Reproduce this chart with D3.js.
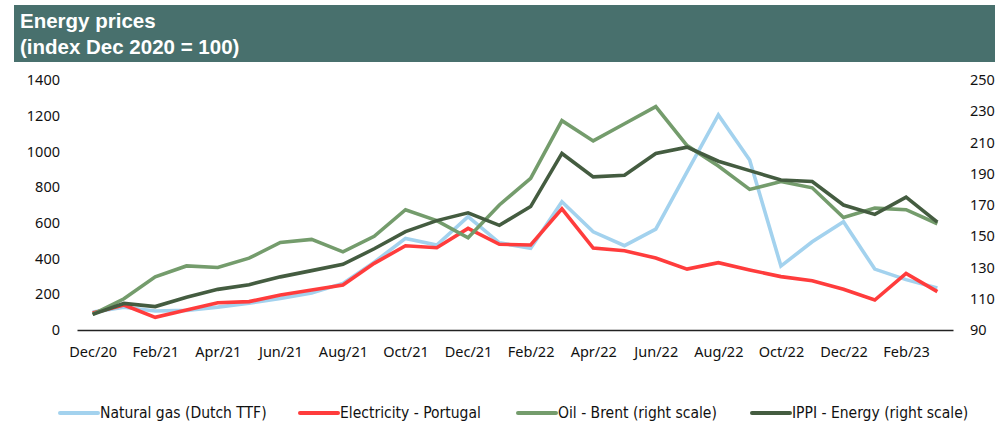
<!DOCTYPE html>
<meta charset="utf-8">
<title>Energy prices</title>
<style>
  body { margin: 0; background: #fff; }
  text { font-family: "Noto Sans", "DejaVu Sans", sans-serif; }
</style>
<svg width="1000" height="425"></svg>
<script src="https://d3js.org/d3.v7.min.js"></script>
<script>

var months = ["Dec/20","Jan/21","Feb/21","Mar/21","Apr/21","May/21","Jun/21","Jul/21","Aug/21","Sep/21","Oct/21","Nov/21",
              "Dec/21","Jan/22","Feb/22","Mar/22","Apr/22","May/22","Jun/22","Jul/22","Aug/22","Sep/22","Oct/22","Nov/22",
              "Dec/22","Jan/23","Feb/23","Mar/23"];

// left scale
var gas = [100,127,106,110,128,150,177,207,261,380,513,476,635,488,458,718,550,472,565,885,1204,952,358,494,606,341,282,235];
var electricity = [95,140,71,112,153,159,196,224,252,373,472,461,569,480,476,678,459,444,403,341,377,336,299,276,228,168,317,215];
// right scale
var oil = [100,110,124,131,130,136,146,148,140,150,167,160,149,170,187,224,211,222,233,208,195,180,185,181,162,168,167,158];
var ippi = [100,107,105,111,116,119,124,128,132,142,153,160,165,157,169,203,188,189,203,207,198,192,186,185,170,164,175,159];

var leftTicks = [0,200,400,600,800,1000,1200,1400];
var rightTicks = [90,110,130,150,170,190,210,230,250];

var series = [
  {name: "Natural gas (Dutch TTF)", values: gas, axis: "left", color: "#a3d2ee"},
  {name: "Electricity - Portugal", values: electricity, axis: "left", color: "#ff3c3c"},
  {name: "Oil - Brent (right scale)", values: oil, axis: "right", color: "#749c6c"},
  {name: "IPPI - Energy (right scale)", values: ippi, axis: "right", color: "#445c40"}
];

var svg = d3.select("svg");

// title banner
svg.append("rect")
    .attr("x", 14).attr("y", 5)
    .attr("width", 981).attr("height", 57)
    .attr("fill", "#48706d");
svg.append("text")
    .attr("x", 20).attr("y", 28)
    .attr("fill", "#fff")
    .attr("font-size", 20.5).attr("font-weight", "bold")
    .style("font-family", "'Liberation Sans', Arial, sans-serif")
    .text("Energy prices");
svg.append("text")
    .attr("x", 20).attr("y", 54)
    .attr("fill", "#fff")
    .attr("font-size", 20.5).attr("font-weight", "bold")
    .style("font-family", "'Liberation Sans', Arial, sans-serif")
    .text("(index Dec 2020 = 100)");

var x = d3.scalePoint()
    .domain(months)
    .range([77, 953])
    .padding(0.5);

var yLeft = d3.scaleLinear().domain([0, 1400]).range([330, 80]);
var yRight = d3.scaleLinear().domain([90, 250]).range([330, 80]);

// left axis
svg.append("g")
    .attr("transform", "translate(60,0)")
    .call(d3.axisLeft(yLeft).tickValues(leftTicks).tickFormat(d3.format("d")).tickSize(0).tickPadding(0))
    .call(function(g) { g.select(".domain").remove(); })
    .selectAll("text")
      .attr("font-size", 14.5)
      .attr("fill", "#111")
      .style("font-family", "'Noto Sans', sans-serif");

// right axis
svg.append("g")
    .attr("transform", "translate(970,0)")
    .call(d3.axisRight(yRight).tickValues(rightTicks).tickSize(0).tickPadding(0))
    .call(function(g) { g.select(".domain").remove(); })
    .selectAll("text")
      .attr("font-size", 14.5)
      .attr("fill", "#111")
      .style("font-family", "'Noto Sans', sans-serif");

// x axis
var xAxis = svg.append("g")
    .attr("transform", "translate(0,330)")
    .call(d3.axisBottom(x)
      .tickValues(months.filter(function(d, i) { return i % 2 === 0; }))
      .tickSize(0).tickPadding(17));
xAxis.select(".domain").attr("stroke", "#222").attr("stroke-width", 1.3);
xAxis.selectAll("text")
    .attr("font-size", 14.5)
    .attr("fill", "#111")
    .style("font-family", "'Noto Sans', sans-serif");

// lines
var line = function(scale) {
  return d3.line()
    .x(function(d, i) { return x(months[i]); })
    .y(function(d) { return scale(d); });
};

svg.append("g").selectAll("path")
  .data(series)
  .enter().append("path")
    .attr("fill", "none")
    .attr("stroke", function(d) { return d.color; })
    .attr("stroke-width", 3.6)
    .attr("stroke-linejoin", "miter")
    .attr("d", function(d) { return line(d.axis === "left" ? yLeft : yRight)(d.values); });

// legend
var legendX = [60, 300, 518, 752];
var legend = svg.append("g").selectAll("g")
  .data(series)
  .enter().append("g")
    .attr("transform", function(d, i) { return "translate(" + legendX[i] + ",413)"; });

legend.append("line")
    .attr("x1", 0).attr("x2", 38)
    .attr("stroke", function(d) { return d.color; })
    .attr("stroke-width", 4)
    .attr("stroke-linecap", "round");

legend.append("text")
    .attr("x", 40).attr("dy", "0.35em")
    .attr("font-size", 15.5)
    .attr("fill", "#111")
    .style("font-family", "'Liberation Sans Narrow', 'DejaVu Sans Condensed', sans-serif")
    .text(function(d) { return d.name; });

</script>
